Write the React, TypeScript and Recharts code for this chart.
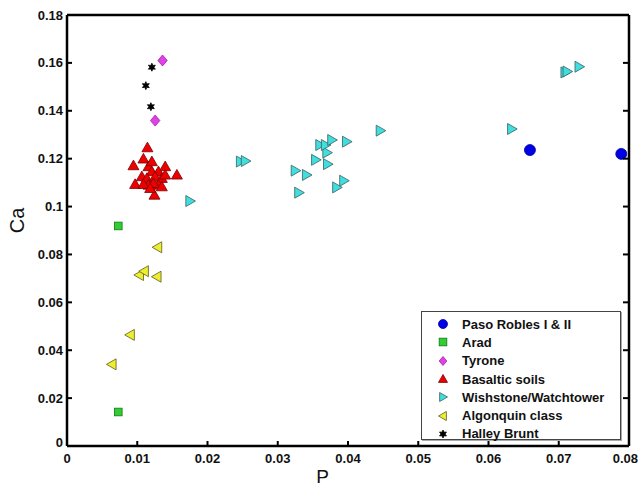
import { ScatterChart, Scatter, XAxis, YAxis, Legend, Label } from 'recharts'

// values: x = P, y = Ca
const pasoRobles = [
    { x: 0.0659, y: 0.1236 },
    { x: 0.0789, y: 0.122 },
]
const arad = [
    { x: 0.0073, y: 0.0919 },
    { x: 0.0073, y: 0.0142 },
]
const tyrone = [
    { x: 0.0136, y: 0.161 },
    { x: 0.01255, y: 0.1359 },
]
const basaltic = [
    { x: 0.01145, y: 0.1246 },
    { x: 0.00946, y: 0.1171 },
    { x: 0.01088, y: 0.1199 },
    { x: 0.01398, y: 0.1167 },
    { x: 0.01564, y: 0.1132 },
    { x: 0.0097, y: 0.1093 },
    { x: 0.01245, y: 0.1048 },
    { x: 0.0116, y: 0.1167 },
    { x: 0.01208, y: 0.1146 },
    { x: 0.01302, y: 0.1146 },
    { x: 0.01065, y: 0.1125 },
    { x: 0.01137, y: 0.1118 },
    { x: 0.01255, y: 0.1125 },
    { x: 0.0135, y: 0.1118 },
    { x: 0.0116, y: 0.109 },
    { x: 0.01302, y: 0.109 },
    { x: 0.01088, y: 0.1093 },
    { x: 0.01398, y: 0.1132 },
    { x: 0.01231, y: 0.1097 },
    { x: 0.01184, y: 0.1076 },
    { x: 0.0135, y: 0.1083 },
    { x: 0.01208, y: 0.1188 },
]
const wishstone = [
    { x: 0.0175, y: 0.1023 },
    { x: 0.0247, y: 0.1188 },
    { x: 0.0254, y: 0.119 },
    { x: 0.0325, y: 0.115 },
    { x: 0.0341, y: 0.1132 },
    { x: 0.033, y: 0.1058 },
    { x: 0.0354, y: 0.1195 },
    { x: 0.0371, y: 0.1177 },
    { x: 0.037, y: 0.1225 },
    { x: 0.036, y: 0.1257 },
    { x: 0.0368, y: 0.1257 },
    { x: 0.0377, y: 0.1278 },
    { x: 0.0398, y: 0.1271 },
    { x: 0.0384, y: 0.108 },
    { x: 0.0394, y: 0.1108 },
    { x: 0.0446, y: 0.1317 },
    { x: 0.0633, y: 0.1324 },
    { x: 0.0709, y: 0.156 },
    { x: 0.0712, y: 0.1564 },
    { x: 0.0729, y: 0.1584 },
]
const algonquin = [
    { x: 0.0129, y: 0.083 },
    { x: 0.0103, y: 0.0714 },
    { x: 0.011, y: 0.073 },
    { x: 0.0128, y: 0.0707 },
    { x: 0.009, y: 0.0464 },
    { x: 0.0064, y: 0.0341 },
]
const halleyBrunt = [
    { x: 0.01208, y: 0.1582 },
    { x: 0.01122, y: 0.1505 },
    { x: 0.01194, y: 0.1417 },
]

const xTicks = [0, 0.01, 0.02, 0.03, 0.04, 0.05, 0.06, 0.07, 0.08]
const yTicks = [0, 0.02, 0.04, 0.06, 0.08, 0.1, 0.12, 0.14, 0.16, 0.18]

type Kind = 'circle' | 'square' | 'diamond' | 'up' | 'right' | 'left' | 'star'

const series: { name: string; data: { x: number; y: number }[]; kind: Kind; fill: string; stroke: string }[] = [
    { name: 'Paso Robles I & II', data: pasoRobles, kind: 'circle', fill: '#0000e6', stroke: '#00009a' },
    { name: 'Arad', data: arad, kind: 'square', fill: '#33cc33', stroke: '#117711' },
    { name: 'Tyrone', data: tyrone, kind: 'diamond', fill: '#e040e8', stroke: '#a020a8' },
    { name: 'Basaltic soils', data: basaltic, kind: 'up', fill: '#ee0000', stroke: '#7a0000' },
    { name: 'Wishstone/Watchtower', data: wishstone, kind: 'right', fill: '#40dede', stroke: '#3a6060' },
    { name: 'Algonquin class', data: algonquin, kind: 'left', fill: '#eeee30', stroke: '#5a5a20' },
    { name: 'Halley Brunt', data: halleyBrunt, kind: 'star', fill: '#000', stroke: '#000' },
]

const font = '"Liberation Sans", Arial, Helvetica, sans-serif'

function Marker({ kind, cx, cy, s, fill, stroke }: { kind: Kind; cx: number; cy: number; s: number; fill: string; stroke: string }) {
    const h = s / 2
    const common = { fill, stroke, strokeWidth: 0.8 }
    if (kind === 'circle') return <circle cx={cx} cy={cy} r={h} {...common} />
    if (kind === 'square') return <rect x={cx - h * 0.85} y={cy - h * 0.85} width={h * 1.7} height={h * 1.7} {...common} />
    if (kind === 'diamond') return <polygon points={`${cx},${cy - h} ${cx + h * 0.85},${cy} ${cx},${cy + h} ${cx - h * 0.85},${cy}`} {...common} />
    if (kind === 'up') return <polygon points={`${cx},${cy - h} ${cx + h},${cy + h * 0.75} ${cx - h},${cy + h * 0.75}`} {...common} />
    if (kind === 'right') return <polygon points={`${cx + h},${cy} ${cx - h * 0.75},${cy - h} ${cx - h * 0.75},${cy + h}`} {...common} />
    if (kind === 'left') return <polygon points={`${cx - h},${cy} ${cx + h * 0.75},${cy - h} ${cx + h * 0.75},${cy + h}`} {...common} />
    // six-pointed star
    const pts: string[] = []
    for (let i = 0; i < 12; i++) {
        const a = (Math.PI / 6) * i - Math.PI / 2
        const r = i % 2 === 0 ? h : h * 0.5
        pts.push(`${cx + r * Math.cos(a)},${cy + r * Math.sin(a)}`)
    }
    return <polygon points={pts.join(' ')} {...common} />
}

const tickText = { fontFamily: font, fontWeight: 700, fontSize: 13, fill: '#111' }
const TL = 5

function BottomTick({ x, y, payload, index }: any) {
    const last = index === xTicks.length - 1
    return (
        <g>
            <line x1={x} x2={x} y1={y - 6} y2={y - 6 - TL} stroke="#000" strokeWidth={2} />
            <text x={last ? x + 9 : x} y={y} dy={11} textAnchor={last ? 'end' : 'middle'} {...tickText}>{String(payload.value)}</text>
        </g>
    )
}
function LeftTick({ x, y, payload }: any) {
    return (
        <g>
            <line x1={x + 4} x2={x + 4 + TL} y1={y} y2={y} stroke="#000" strokeWidth={2} />
            <text x={x} y={y} dy={payload.value === 0 ? 1 : 4.5} textAnchor="end" {...tickText}>{String(payload.value)}</text>
        </g>
    )
}
function TopTick({ x, y }: any) {
    return <line x1={x} x2={x} y1={y + 5} y2={y + 5 + TL} stroke="#000" strokeWidth={2} />
}
function RightTick({ x, y }: any) {
    return <line x1={x - 5} x2={x - 5 - TL} y1={y} y2={y} stroke="#000" strokeWidth={2} />
}

function LegendBox() {
    return (
        <div style={{ border: '1px solid #444', boxShadow: '1px 1px 0 #aaa', background: '#fff', width: 200, height: 129, boxSizing: 'border-box', paddingTop: 3 }}>
            {series.map((s) => (
                <div key={s.name} style={{ display: 'flex', alignItems: 'center', height: 18.3 }}>
                    <svg width={40} height={18} style={{ flex: 'none' }}>
                        <Marker kind={s.kind} cx={21} cy={9} s={s.kind === 'star' ? 8 : 9} fill={s.fill} stroke={s.stroke} />
                    </svg>
                    <span style={{ fontFamily: font, fontWeight: 700, fontSize: 13, color: '#111', whiteSpace: 'nowrap' }}>{s.name}</span>
                </div>
            ))}
        </div>
    )
}

export default function App() {
    return (
        <div style={{ position: 'absolute', left: 0, top: 0, width: 639, height: 487, background: '#fff' }}>
            <ScatterChart width={639} height={487} margin={{ top: 14, right: 9, bottom: 11, left: 7 }}>
                <XAxis type="number" dataKey="x" domain={[0, 0.08]} ticks={xTicks} allowDataOverflow height={30}
                    axisLine={{ stroke: '#000', strokeWidth: 2.5 }} tickLine={false} tickSize={0} tickMargin={6} tick={<BottomTick />} interval={0}>
                    <Label content={({ viewBox }: any) => (
                        <text x={viewBox.x + viewBox.width * 0.455} y={viewBox.y + 37} textAnchor="middle"
                            style={{ fontFamily: font, fontSize: 19, fill: '#111' }}>P</text>
                    )} />
                </XAxis>
                <XAxis xAxisId="top" orientation="top" type="number" domain={[0, 0.08]} ticks={xTicks} allowDataOverflow height={1}
                    axisLine={{ stroke: '#000', strokeWidth: 2.5 }} tickLine={false} tickSize={0} tickMargin={4} tick={<TopTick />} interval={0} />
                <YAxis type="number" dataKey="y" domain={[0, 0.18]} ticks={yTicks} allowDataOverflow width={60}
                    axisLine={{ stroke: '#000', strokeWidth: 2.5 }} tickLine={false} tickSize={0} tickMargin={4} tick={<LeftTick />} interval={0}>
                    <Label content={({ viewBox }: any) => {
                        const cx = viewBox.x + 10
                        const cy = viewBox.y + viewBox.height / 2 - 10
                        return (
                            <text x={cx} y={cy} textAnchor="middle" dominantBaseline="central" transform={`rotate(-90 ${cx} ${cy})`}
                                style={{ fontFamily: font, fontSize: 20, fill: '#111' }}>Ca</text>
                        )
                    }} />
                </YAxis>
                <YAxis yAxisId="right" orientation="right" type="number" domain={[0, 0.18]} ticks={yTicks} allowDataOverflow width={1}
                    axisLine={{ stroke: '#000', strokeWidth: 2.5 }} tickLine={false} tickSize={0} tickMargin={4} tick={<RightTick />} interval={0} />
                <Legend layout="vertical" align="center" verticalAlign="middle" content={() => <LegendBox />}
                    wrapperStyle={{ left: 421, top: 311, width: 202, height: 131 }} />
                {series.map((s) => (
                    <Scatter key={s.name} name={s.name} data={s.data} isAnimationActive={false}
                        shape={(p: any) => <Marker kind={s.kind} cx={p.cx} cy={p.cy} s={s.kind === 'star' ? 8 : s.kind === 'square' ? 9 : 11} fill={s.fill} stroke={s.stroke} />} />
                ))}
            </ScatterChart>
        </div>
    )
}
